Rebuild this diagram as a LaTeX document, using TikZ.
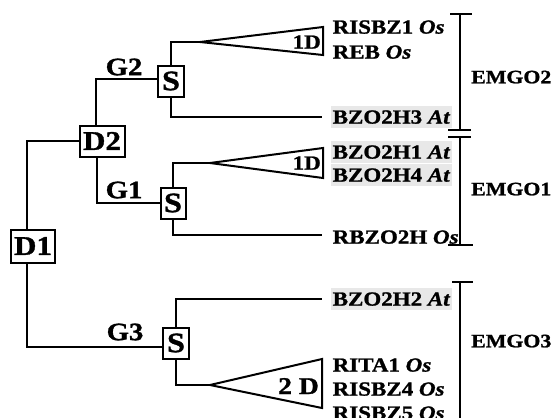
\documentclass[tikz,border=0pt]{standalone}
\usepackage{fontspec}
\setmainfont{Liberation Serif}[FakeStretch=1.15,BoldFeatures={FakeBold=1.2},BoldItalicFeatures={FakeBold=1.2}]
\begin{document}
\begin{tikzpicture}[x=1pt,y=-1pt,
  ln/.style={line width=2pt},
  dbox/.style={draw,line width=2pt,inner sep=0pt,minimum width=44pt,minimum height=33pt,font=\fontsize{27}{27}\selectfont\bfseries},
  sbox/.style={draw,line width=2pt,inner sep=0pt,minimum width=26pt,minimum height=31pt,font=\fontsize{28}{28}\selectfont\bfseries},
  glab/.style={inner sep=0pt,font=\fontsize{25}{25}\selectfont\bfseries},
  leaf/.style={anchor=west,inner xsep=1.5pt,inner ysep=4.5pt,text height=13.2pt,text depth=0pt,font=\fontsize{20}{20}\selectfont\bfseries},
  hl/.style={fill=black!9},
  tri/.style={line width=2pt,line join=miter},
  tlab/.style={anchor=east,inner sep=0pt,text height=13.2pt,text depth=0pt,font=\fontsize{20}{20}\selectfont\bfseries},
  emgo/.style={anchor=west,inner sep=0pt,text height=12.6pt,text depth=0pt,font=\fontsize{19}{19}\selectfont\bfseries},
  brk/.style={line width=1.6pt}]
\useasboundingbox (0,0) rectangle (555,418);
% boxes
\node[dbox] (D1) at (33,246) {D1};
\node[dbox,minimum width=45pt,minimum height=31pt] (D2) at (102,141) {D2};
\node[sbox] (S2) at (171,81) {S};
\node[sbox,minimum width=25pt] (S1) at (173,203) {S};
\node[sbox] (S3) at (176,343) {S};
% group labels
\node[glab] (G2) at (124,67) {G2};
\node[glab] (G1) at (124,190) {G1};
\node[glab] (G3) at (125,332) {G3};
% leaves
\node[leaf] (l1) at (331,27) {RISBZ1 \textit{Os}};
\node[leaf] (l2) at (331,52) {REB \textit{Os}};
\node[leaf,hl] (l3) at (331,117) {BZO2H3 \textit{At}};
\node[leaf,hl] (l4) at (331,152) {BZO2H1 \textit{At}};
\node[leaf,hl] (l5) at (331,175) {BZO2H4 \textit{At}};
\node[leaf] (l6) at (331,237) {RBZO2H \textit{Os}};
\node[leaf,hl] (l7) at (331,299) {BZO2H2 \textit{At}};
\node[leaf] (l8) at (331,365) {RITA1 \textit{Os}};
\node[leaf] (l9) at (331,389) {RISBZ4 \textit{Os}};
\node[leaf] (l10) at (331,413) {RISBZ5 \textit{Os}};
% triangles
\coordinate (t2) at (200,42);
\coordinate (t1) at (210,163);
\coordinate (t3) at (210,385);
\draw[tri] (t2) -- (323,27) -- (323,55) -- cycle;
\draw[tri] (t1) -- (323,148) -- (323,178) -- cycle;
\draw[tri] (t3) -- (322,359) -- (322,408) -- cycle;
\node[tlab] (d2a) at (321,42) {1D};
\node[tlab] (d1a) at (321,163) {1D};
\node[tlab,font=\fontsize{24}{24}\selectfont\bfseries,text height=16pt] (d3a) at (319,386) {2 D};
% connectors
\draw[ln] ([xshift=-6pt]D1.north) |- (D2.west);
\draw[ln] ([xshift=-6pt]D1.south) |- ([yshift=-4pt]S3.west);
\draw[ln] ([xshift=-6pt]D2.north) |- ([yshift=2pt]S2.west);
\draw[ln] ([xshift=-5pt]D2.south) |- (S1.west);
\draw[ln] (S2.north) |- (t2);
\draw[ln] (S2.south) |- ([xshift=-9pt]l3.west);
\draw[ln] (S1.north) |- (t1);
\draw[ln] (S1.south) |- ([xshift=-9pt,yshift=2pt]l6.west);
\draw[ln] (S3.north) |- ([xshift=-9pt]l7.west);
\draw[ln] (S3.south) |- (t3);
% brackets
\draw[brk] (460,14) -- (460,130);
\draw[brk] (450,14) -- (472,14);
\draw[brk] (448,130) -- (471,130);
\draw[brk] (460,137) -- (460,245);
\draw[brk] (448,137) -- (471,137);
\draw[brk] (448,245) -- (473,245);
\draw[brk] (460,282) -- (460,420);
\draw[brk] (452,282) -- (473,282);
\node[emgo] (e2) at (471,77) {EMGO2};
\node[emgo] (e1) at (471,189) {EMGO1};
\node[emgo] (e3) at (471,341) {EMGO3};
\end{tikzpicture}
\end{document}
